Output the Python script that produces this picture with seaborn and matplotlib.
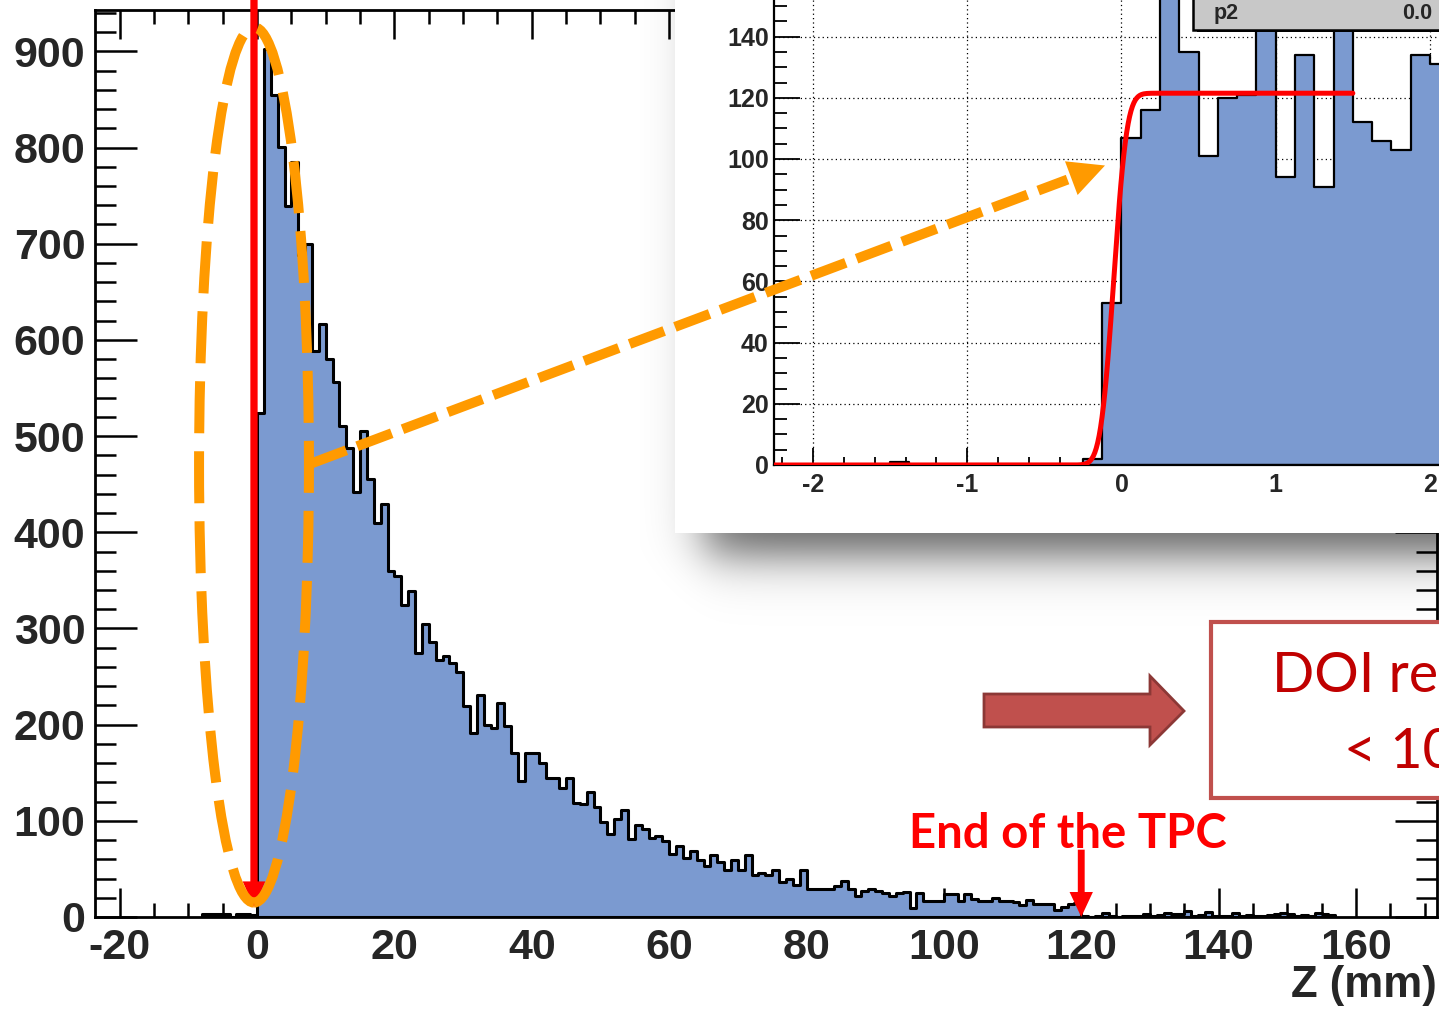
import math
import numpy as np
import pandas as pd
import matplotlib
matplotlib.use("Agg")
import matplotlib.pyplot as plt
import seaborn as sns
from matplotlib.patches import Ellipse, Rectangle, Polygon
from matplotlib.ticker import MultipleLocator
from matplotlib.lines import Line2D

# ---------------------------------------------------------------- data
# Reconstructed interaction depth Z, 1 mm bins starting at -8 mm
z_first_bin = -8
z_counts = [
    3, 3, 3, 3, 0, 3, 3, 2,
    524, 902, 855, 801, 739, 785, 688, 700, 588, 617,
    580, 556, 510, 488, 442, 505, 455, 410, 429, 360,
    355, 324, 339, 274, 305, 286, 267, 271, 264, 255,
    219, 191, 231, 200, 196, 222, 199, 170, 141, 170,
    170, 160, 144, 144, 134, 144, 119, 117, 130, 114,
    99, 86, 102, 111, 81, 96, 92, 82, 84, 79,
    66, 74, 61, 69, 59, 53, 64, 57, 49, 59,
    49, 64, 44, 46, 44, 49, 36, 39, 33, 49,
    29, 29, 29, 29, 32, 37, 29, 22, 27, 29,
    27, 25, 22, 25, 26, 9, 25, 17, 17, 17,
    24, 24, 17, 24, 19, 17, 17, 20, 17, 17,
    16, 12, 18, 14, 14, 13, 7, 10, 13, 15,
    1, 0, 1, 4, 1, 0, 1, 1, 1, 3,
    1, 2, 4, 3, 3, 6, 1, 2, 5, 1,
    1, 1, 4, 1, 2, 1, 1, 2, 3, 4,
    3, 1, 2, 1, 4, 3, 2,
]
z_bin_width = 1.0

# Close-up of the entrance edge, 0.125 mm bins starting at -2.25 mm
edge_first_bin = -2.25
edge_bin_width = 0.125
edge_counts = [
    0, 0, 0, 0, 0, 0, 1, 0, 0, 0, 0, 0, 0, 0, 0, 0, 2, 53,
    107, 116, 168, 135, 101, 120, 121, 162, 94, 134, 91, 158,
    112, 106, 103, 134, 131, 125,
]

# Step fit: p0/2 * (1 + erf((z - p1) / (sqrt(2) p2)))
fit_p0, fit_p1, fit_p2 = 121.5, -0.05, 0.067
fit_zmin, fit_zmax = -2.25, 1.5

tpc_end_mm = 120
main_xticks = [-20, 0, 20, 40, 60, 80, 100, 120, 140, 160]
main_yticks = [0, 100, 200, 300, 400, 500, 600, 700, 800, 900]
inset_xticks = [-2, -1, 0, 1, 2]
inset_yticks = [0, 20, 40, 60, 80, 100, 120, 140]

# ---------------------------------------------------------------- style
sns.set_theme(style="ticks")
plt.rcParams["font.family"] = ["Liberation Sans", "DejaVu Sans"]
plt.rcParams["axes.unicode_minus"] = False

HIST_BLUE = "#7B9AD0"
ORANGE = "#FF9A00"
BRICK = "#C0504D"

W, H = 1439, 1011
fig = plt.figure(figsize=(W / 100, H / 100), dpi=100)
fig.patch.set_facecolor("white")


def box(x0, y0, x1, y1):
    """Pixel box (origin top-left) -> figure fraction rect."""
    return [x0 / W, 1 - y1 / H, (x1 - x0) / W, (y1 - y0) / H]


# ---------------------------------------------------------------- main histogram
ax = fig.add_axes(box(95, 10, 1437, 917))
ax.set_zorder(1)
nz = len(z_counts)
df = pd.DataFrame({"z": z_first_bin + z_bin_width * (np.arange(nz) + 0.5),
                   "n": z_counts})
sns.histplot(data=df, x="z", weights="n", binwidth=z_bin_width,
             binrange=(z_first_bin, z_first_bin + nz * z_bin_width),
             element="step", fill=True, color=HIST_BLUE, edgecolor="black",
             linewidth=2.2, alpha=1, ax=ax)
ax.set_xlim(-23.6, 171.8)
ax.set_ylim(0, 943)
ax.set_xticks(main_xticks)
ax.set_yticks(main_yticks)
ax.xaxis.set_minor_locator(MultipleLocator(5))
ax.yaxis.set_minor_locator(MultipleLocator(20))
ax.tick_params(which="both", direction="in", top=True, right=True,
               width=1.8, color="black")
ax.tick_params(axis="x", which="major", length=21, pad=8)
ax.tick_params(axis="x", which="minor", length=10)
ax.tick_params(axis="y", which="major", length=30, pad=7)
ax.tick_params(axis="y", which="minor", length=15)
for lab in ax.get_xticklabels() + ax.get_yticklabels():
    lab.set_fontsize(31)
    lab.set_fontweight("bold")
ax.set_ylabel("")
ax.set_xlabel("Z (mm)", loc="right", fontsize=31.5, fontweight="bold",
              labelpad=-2)
for s in ax.spines.values():
    s.set_linewidth(2.0)
    s.set_color("black")

# marker at Z = 0 and the ellipse around the entrance peak
ax.arrow(-0.45, 955, 0, -945, width=1.06, head_width=3.3, head_length=27,
         length_includes_head=True, color="#FF0000", lw=0, clip_on=False,
         zorder=5)
ax.add_patch(Ellipse((-0.45, 470), 16.0, 910, fill=False, edgecolor=ORANGE,
                     linewidth=7.2, linestyle=(0, (5.2, 1.8)), clip_on=False,
                     zorder=6))

# end of the TPC
ax.arrow(tpc_end_mm, 70, 0, -70, width=1.0, head_width=3.4, head_length=26,
         length_includes_head=True, color="#FF0000", lw=0, clip_on=False,
         zorder=5)
ax.text(118.1, 72, "End of the TPC", color="#FF0000", fontsize=34,
        fontweight="bold", family=["Lato", "DejaVu Sans"], ha="center",
        va="baseline", zorder=6)

# ---------------------------------------------------------------- inset panel + shadow
axp = fig.add_axes([0, 0, 1, 1])
axp.set_zorder(2)
axp.patch.set_visible(False)
axp.axis("off")
xs = np.arange(640, W) + 0.5
ys = np.arange(0, 660) + 0.5
sx = 1 / (1 + np.exp(-(xs - 705) / 14))
sy = 1 / (1 + np.exp((ys - 555) / 14))
shadow = np.zeros((len(ys), len(xs), 4))
shadow[..., 3] = 0.62 * np.outer(sy, sx)
axp.imshow(shadow, extent=(640, W, 660, 0), aspect="auto",
           interpolation="bilinear")
axp.add_patch(Rectangle((675, -30), 900, 563, facecolor="white",
                        edgecolor="none"))
axp.set_xlim(0, W)
axp.set_ylim(H, 0)

# ---------------------------------------------------------------- inset histogram
axin = fig.add_axes(box(774.4, 465 - 160 * 3.06, 774.4 + 5 * 154.25, 465))
axin.set_zorder(3)
ne = len(edge_counts)
dfe = pd.DataFrame({"z": edge_first_bin + edge_bin_width * (np.arange(ne) + 0.5),
                    "n": edge_counts})
sns.histplot(data=dfe, x="z", weights="n", binwidth=edge_bin_width,
             binrange=(edge_first_bin, edge_first_bin + ne * edge_bin_width),
             element="step", fill=True, color=HIST_BLUE, edgecolor="black",
             linewidth=1.6, alpha=1, ax=axin)
zf = np.linspace(fit_zmin, fit_zmax, 400)
yf = [fit_p0 / 2 * (1 + math.erf((z - fit_p1) / (math.sqrt(2) * fit_p2)))
      for z in zf]
sns.lineplot(x=zf, y=yf, color="#FF0000", linewidth=3.6, ax=axin, zorder=4)
axin.set_xlim(-2.25, 2.75)
axin.set_ylim(0, 160)
axin.set_xticks(inset_xticks)
axin.set_yticks(inset_yticks)
axin.xaxis.set_minor_locator(MultipleLocator(0.2))
axin.yaxis.set_minor_locator(MultipleLocator(5))
axin.set_axisbelow(True)
axin.grid(True, which="major", color="black", linestyle=(0, (1, 2.5)),
          linewidth=0.9)
axin.tick_params(which="both", direction="in", width=1.3, color="black")
axin.tick_params(axis="x", which="major", length=12, pad=6)
axin.tick_params(axis="x", which="minor", length=6)
axin.tick_params(axis="y", which="major", length=19, pad=4)
axin.tick_params(axis="y", which="minor", length=9)
for lab in axin.get_xticklabels() + axin.get_yticklabels():
    lab.set_fontsize(18)
    lab.set_fontweight("bold")
axin.set_xlabel("")
axin.set_ylabel("")
for s in axin.spines.values():
    s.set_linewidth(1.6)
    s.set_color("black")

# ---------------------------------------------------------------- overlay
axo = fig.add_axes([0, 0, 1, 1])
axo.set_zorder(4)
axo.patch.set_visible(False)
axo.axis("off")
axo.set_xlim(0, W)
axo.set_ylim(H, 0)

# fit statistics box
axo.add_patch(Rectangle((1197, -6), 320, 38, facecolor="black",
                        edgecolor="none"))
axo.add_patch(Rectangle((1193, -10), 320, 40, facecolor="#C8C8C8",
                        edgecolor="black", linewidth=1.8))
axo.text(1214, 19, "p2", fontsize=15.5, fontweight="bold", va="baseline")
axo.text(1402, 19, "0.0", fontsize=15.5, fontweight="bold", va="baseline")

# dashed pointer from the peak to the close-up
start = np.array([311.7, 463.3])
tip = np.array([1105.0, 165.5])
u = (tip - start) / np.linalg.norm(tip - start)
n = np.array([-u[1], u[0]])
base = tip - 36 * u
line_end = tip - 40 * u
axo.add_line(Line2D([start[0], line_end[0]], [start[1], line_end[1]],
                    color=ORANGE, linewidth=7.2, linestyle=(0, (3.7, 1.15)),
                    solid_capstyle="butt", dash_capstyle="butt"))
axo.add_patch(Polygon([tip, base + 18 * n, base - 18 * n], closed=True,
                      facecolor=ORANGE, edgecolor="none"))

# block arrow and result box
axo.add_patch(Polygon([(984, 694), (1150, 694), (1150, 676), (1184, 711),
                       (1150, 745), (1150, 727), (984, 727)], closed=True,
                      facecolor=BRICK, edgecolor="#8C3836", linewidth=2))
axo.add_patch(Rectangle((1211, 622), 320, 176, facecolor="white",
                        edgecolor=BRICK, linewidth=3))
axo.text(1272, 692, "DOI re", color="#C00000", fontsize=40,
         family=["Lato", "DejaVu Sans"], va="baseline")
axo.text(1344, 768, "< 10", color="#C00000", fontsize=40,
         family=["Lato", "DejaVu Sans"], va="baseline")

fig.savefig("out.png", dpi=100)
